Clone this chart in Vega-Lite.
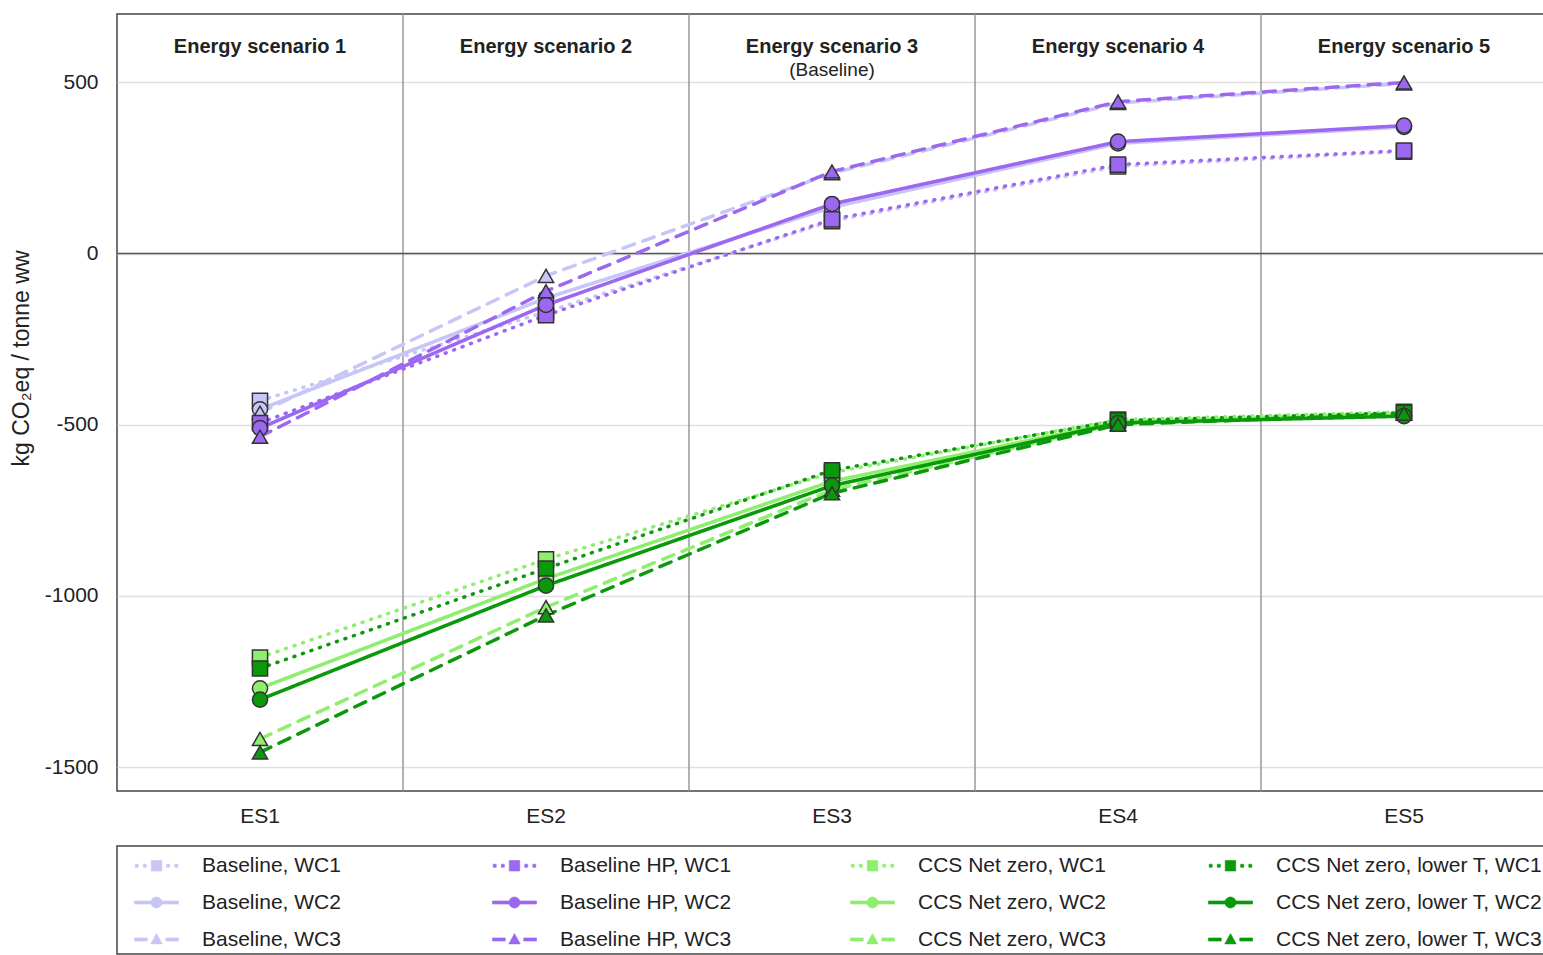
{
  "$schema": "https://vega.github.io/schema/vega-lite/v6.json",
  "width": 1430,
  "height": 777,
  "padding": {"left": 10, "top": 13, "right": 0, "bottom": 0},
  "background": "white",
  "datasets": {
    "main": [
      {"series": "Baseline, WC1", "wc": "WC1", "ES": "ES1", "value": -430},
      {"series": "Baseline, WC1", "wc": "WC1", "ES": "ES2", "value": -170},
      {"series": "Baseline, WC1", "wc": "WC1", "ES": "ES3", "value": 95},
      {"series": "Baseline, WC1", "wc": "WC1", "ES": "ES4", "value": 255},
      {"series": "Baseline, WC1", "wc": "WC1", "ES": "ES5", "value": 298},
      {"series": "Baseline, WC2", "wc": "WC2", "ES": "ES1", "value": -455},
      {"series": "Baseline, WC2", "wc": "WC2", "ES": "ES2", "value": -130},
      {"series": "Baseline, WC2", "wc": "WC2", "ES": "ES3", "value": 135},
      {"series": "Baseline, WC2", "wc": "WC2", "ES": "ES4", "value": 322},
      {"series": "Baseline, WC2", "wc": "WC2", "ES": "ES5", "value": 370},
      {"series": "Baseline, WC3", "wc": "WC3", "ES": "ES1", "value": -465},
      {"series": "Baseline, WC3", "wc": "WC3", "ES": "ES2", "value": -65},
      {"series": "Baseline, WC3", "wc": "WC3", "ES": "ES3", "value": 235},
      {"series": "Baseline, WC3", "wc": "WC3", "ES": "ES4", "value": 440},
      {"series": "Baseline, WC3", "wc": "WC3", "ES": "ES5", "value": 497},
      {"series": "Baseline HP, WC1", "wc": "WC1", "ES": "ES1", "value": -495},
      {"series": "Baseline HP, WC1", "wc": "WC1", "ES": "ES2", "value": -180},
      {"series": "Baseline HP, WC1", "wc": "WC1", "ES": "ES3", "value": 100},
      {"series": "Baseline HP, WC1", "wc": "WC1", "ES": "ES4", "value": 260},
      {"series": "Baseline HP, WC1", "wc": "WC1", "ES": "ES5", "value": 301},
      {"series": "Baseline HP, WC2", "wc": "WC2", "ES": "ES1", "value": -510},
      {"series": "Baseline HP, WC2", "wc": "WC2", "ES": "ES2", "value": -150},
      {"series": "Baseline HP, WC2", "wc": "WC2", "ES": "ES3", "value": 145},
      {"series": "Baseline HP, WC2", "wc": "WC2", "ES": "ES4", "value": 327},
      {"series": "Baseline HP, WC2", "wc": "WC2", "ES": "ES5", "value": 374},
      {"series": "Baseline HP, WC3", "wc": "WC3", "ES": "ES1", "value": -535},
      {"series": "Baseline HP, WC3", "wc": "WC3", "ES": "ES2", "value": -110},
      {"series": "Baseline HP, WC3", "wc": "WC3", "ES": "ES3", "value": 240},
      {"series": "Baseline HP, WC3", "wc": "WC3", "ES": "ES4", "value": 444},
      {"series": "Baseline HP, WC3", "wc": "WC3", "ES": "ES5", "value": 500},
      {"series": "CCS Net zero, WC1", "wc": "WC1", "ES": "ES1", "value": -1180},
      {"series": "CCS Net zero, WC1", "wc": "WC1", "ES": "ES2", "value": -893},
      {"series": "CCS Net zero, WC1", "wc": "WC1", "ES": "ES3", "value": -640},
      {"series": "CCS Net zero, WC1", "wc": "WC1", "ES": "ES4", "value": -485},
      {"series": "CCS Net zero, WC1", "wc": "WC1", "ES": "ES5", "value": -462},
      {"series": "CCS Net zero, WC2", "wc": "WC2", "ES": "ES1", "value": -1270},
      {"series": "CCS Net zero, WC2", "wc": "WC2", "ES": "ES2", "value": -950},
      {"series": "CCS Net zero, WC2", "wc": "WC2", "ES": "ES3", "value": -665},
      {"series": "CCS Net zero, WC2", "wc": "WC2", "ES": "ES4", "value": -492},
      {"series": "CCS Net zero, WC2", "wc": "WC2", "ES": "ES5", "value": -472},
      {"series": "CCS Net zero, WC3", "wc": "WC3", "ES": "ES1", "value": -1418},
      {"series": "CCS Net zero, WC3", "wc": "WC3", "ES": "ES2", "value": -1033},
      {"series": "CCS Net zero, WC3", "wc": "WC3", "ES": "ES3", "value": -690},
      {"series": "CCS Net zero, WC3", "wc": "WC3", "ES": "ES4", "value": -497},
      {"series": "CCS Net zero, WC3", "wc": "WC3", "ES": "ES5", "value": -466},
      {"series": "CCS Net zero, lower T, WC1", "wc": "WC1", "ES": "ES1", "value": -1212},
      {"series": "CCS Net zero, lower T, WC1", "wc": "WC1", "ES": "ES2", "value": -920},
      {"series": "CCS Net zero, lower T, WC1", "wc": "WC1", "ES": "ES3", "value": -633},
      {"series": "CCS Net zero, lower T, WC1", "wc": "WC1", "ES": "ES4", "value": -488},
      {"series": "CCS Net zero, lower T, WC1", "wc": "WC1", "ES": "ES5", "value": -465},
      {"series": "CCS Net zero, lower T, WC2", "wc": "WC2", "ES": "ES1", "value": -1303},
      {"series": "CCS Net zero, lower T, WC2", "wc": "WC2", "ES": "ES2", "value": -970},
      {"series": "CCS Net zero, lower T, WC2", "wc": "WC2", "ES": "ES3", "value": -678},
      {"series": "CCS Net zero, lower T, WC2", "wc": "WC2", "ES": "ES4", "value": -495},
      {"series": "CCS Net zero, lower T, WC2", "wc": "WC2", "ES": "ES5", "value": -475},
      {"series": "CCS Net zero, lower T, WC3", "wc": "WC3", "ES": "ES1", "value": -1457},
      {"series": "CCS Net zero, lower T, WC3", "wc": "WC3", "ES": "ES2", "value": -1057},
      {"series": "CCS Net zero, lower T, WC3", "wc": "WC3", "ES": "ES3", "value": -700},
      {"series": "CCS Net zero, lower T, WC3", "wc": "WC3", "ES": "ES4", "value": -500},
      {"series": "CCS Net zero, lower T, WC3", "wc": "WC3", "ES": "ES5", "value": -468}
    ]
  },
  "config": {
    "font": "Liberation Sans",
    "view": {"stroke": "#444", "strokeWidth": 1.5},
    "axis": {"labelFontSize": 21, "labelColor": "#222", "domain": false, "ticks": false, "titleFontSize": 23, "titleFontWeight": "normal", "titleColor": "#222"}
  },
  "layer": [
    {
      "data": {"values": [{"ES": "ES2"}, {"ES": "ES3"}, {"ES": "ES4"}, {"ES": "ES5"}]},
      "mark": {"type": "rule", "color": "#999", "strokeWidth": 1.5},
      "encoding": {"x": {"field": "ES", "type": "nominal", "bandPosition": 0}}
    },
    {
      "data": {"values": [{"k": 0}]},
      "mark": {"type": "rule", "color": "#555", "strokeWidth": 1.5},
      "encoding": {"y": {"datum": 0, "type": "quantitative"}}
    },
    {
      "data": {"name": "main"},
      "mark": {"type": "line", "strokeWidth": 3.5, "strokeCap": "round"},
      "encoding": {
        "x": {
          "field": "ES", "type": "nominal",
          "scale": {"type": "band", "domain": ["ES1", "ES2", "ES3", "ES4", "ES5"], "paddingInner": 0, "paddingOuter": 0},
          "axis": {"title": null, "labelAngle": 0, "labelAlign": "center", "labelPadding": 25, "grid": false}
        },
        "y": {
          "field": "value", "type": "quantitative",
          "scale": {"domain": [-1570, 700], "nice": false, "zero": false},
          "axis": {"values": [-1500, -1000, -500, 0, 500], "labelExpr": "'' + datum.value", "grid": true, "gridColor": "#e0e0e0", "gridWidth": 1.5, "labelPadding": 19, "title": "kg CO₂eq / tonne ww", "titlePadding": 6, "titleY": 344, "minExtent": 78, "maxExtent": 78}
        },
        "color": {
          "field": "series", "type": "nominal",
          "scale": {
            "domain": ["Baseline, WC1", "Baseline HP, WC1", "CCS Net zero, WC1", "CCS Net zero, lower T, WC1", "Baseline, WC2", "Baseline HP, WC2", "CCS Net zero, WC2", "CCS Net zero, lower T, WC2", "Baseline, WC3", "Baseline HP, WC3", "CCS Net zero, WC3", "CCS Net zero, lower T, WC3"],
            "range": ["#c8c5f7", "#9c68f2", "#8eef6e", "#0a990a"]
          },
          "legend": {
            "title": null,
            "orient": "bottom",
            "direction": "horizontal",
            "columns": 4,
            "gridAlign": "all",
            "symbolType": "M-1.467,-0.103H1.467V0.103H-1.467Z",
            "symbolSize": 900,
            "symbolStrokeWidth": 0.6,
            "symbolOffset": 20,
            "labelFontSize": 21,
            "labelColor": "#222",
            "labelLimit": 400,
            "labelOffset": 30,
            "columnPadding": 10,
            "rowPadding": 11,
            "padding": 4,
            "offset": 20,
            "strokeColor": "#444",
            "encode": {
              "symbols": {
                "update": {
                  "shape": {"signal": "indexof(datum.value, 'WC1') >= 0 ? 'M-1.42,-0.103H-1.22V0.103H-1.42Z M-0.88,-0.103H-0.68V0.103H-0.88Z M0.68,-0.103H0.88V0.103H0.68Z M1.22,-0.103H1.42V0.103H1.22Z M-0.35,-0.35H0.35V0.35H-0.35Z' : indexof(datum.value, 'WC2') >= 0 ? 'M-1.467,-0.103H1.467V0.103H-1.467Z M0.367,0A0.367,0.367,0,1,1,-0.367,0A0.367,0.367,0,1,1,0.367,0Z' : 'M-1.467,-0.103H-0.616V0.103H-1.467Z M0.616,-0.103H1.467V0.103H0.616Z M0,-0.396L0.381,0.293H-0.381Z'"},
                  "fill": {"scale": "color", "field": "value"},
                  "stroke": {"scale": "color", "field": "value"},
                  "strokeWidth": {"value": 0.6},
                  "opacity": {"value": 1}
                }
              },
              "legend": {"update": {"strokeWidth": {"value": 1.5}}}
            }
          }
        },
        "strokeDash": {
          "field": "wc", "type": "nominal",
          "scale": {"domain": ["WC1", "WC2", "WC3"], "range": [[1, 8], [1, 0], [12, 9]]},
          "legend": null
        }
      }
    },
    {
      "data": {"name": "main"},
      "mark": {"type": "point", "filled": true, "size": 230, "stroke": "#333", "strokeWidth": 1.5, "opacity": 1},
      "encoding": {
        "x": {"field": "ES", "type": "nominal"},
        "y": {"field": "value", "type": "quantitative"},
        "color": {"field": "series", "type": "nominal"},
        "shape": {
          "field": "wc", "type": "nominal",
          "scale": {"domain": ["WC1", "WC2", "WC3"], "range": ["square", "circle", "triangle-up"]},
          "legend": null
        }
      }
    },
    {
      "data": {"values": [
        {"ES": "ES1", "t": "Energy scenario 1"},
        {"ES": "ES2", "t": "Energy scenario 2"},
        {"ES": "ES3", "t": "Energy scenario 3"},
        {"ES": "ES4", "t": "Energy scenario 4"},
        {"ES": "ES5", "t": "Energy scenario 5"}
      ]},
      "mark": {"type": "text", "fontSize": 20, "fontWeight": "bold", "color": "#222"},
      "encoding": {
        "x": {"field": "ES", "type": "nominal"},
        "y": {"datum": 605, "type": "quantitative"},
        "text": {"field": "t"}
      }
    },
    {
      "data": {"values": [{"ES": "ES3", "t": "(Baseline)"}]},
      "mark": {"type": "text", "fontSize": 19, "color": "#222"},
      "encoding": {
        "x": {"field": "ES", "type": "nominal"},
        "y": {"datum": 537, "type": "quantitative"},
        "text": {"field": "t"}
      }
    }
  ]
}
